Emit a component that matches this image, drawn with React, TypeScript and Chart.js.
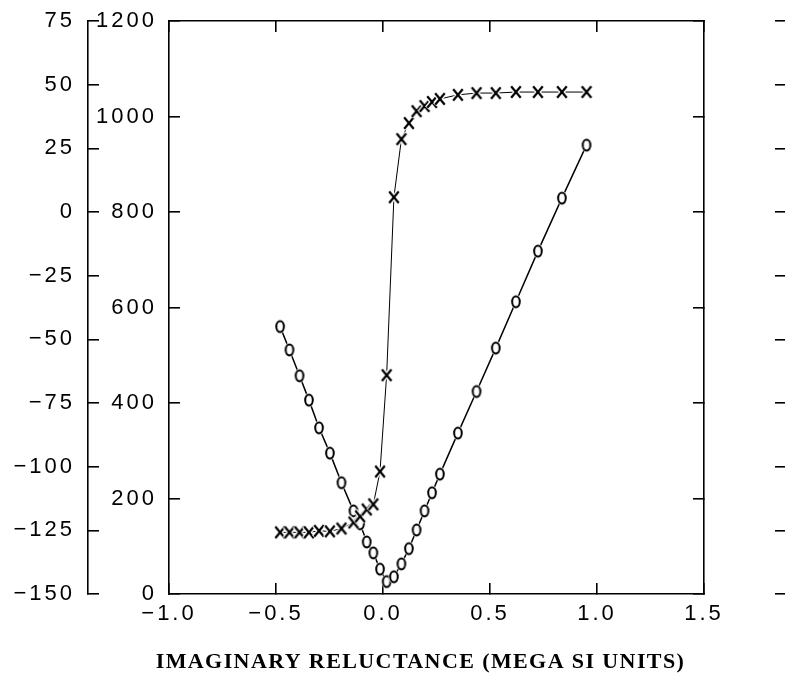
import React, { useEffect, useRef } from 'react';
import { Chart, registerables } from 'chart.js';

Chart.register(...registerables);

// ---- data ----
const reluctance = [
  -0.481, -0.437, -0.390, -0.346, -0.299, -0.248, -0.194, -0.138, -0.107,
  -0.076, -0.045, -0.014, 0.017, 0.051, 0.086, 0.121, 0.157, 0.194, 0.229,
  0.266, 0.350, 0.437, 0.527, 0.621, 0.724, 0.836, 0.951,
];
// "x" markers, plotted against the outer left axis (-150 .. 75)
const seriesX = [
  -125.8, -125.8, -125.8, -125.8, -125.2, -125.4, -124.3, -121.9, -119.5,
  -116.8, -114.8, -101.9, -64.1, 5.8, 28.6, 34.9, 39.6, 41.6, 43.2,
  44.4, 46.0, 46.7, 46.7, 47.1, 47.1, 47.1, 47.1,
];
// "o" markers, plotted against the inner left axis (0 .. 1200)
const seriesO = [
  560, 511, 457, 406, 348, 295, 233, 174, 147,
  109, 86, 52, 26, 36, 63, 95, 134, 174, 212,
  251, 337, 424, 515, 612, 718, 829, 940,
];

const xTickValues = [-1.0, -0.5, 0.0, 0.5, 1.0, 1.5];
const xTickLabels = ['\u22121.0', '\u22120.5', '0.0', '0.5', '1.0', '1.5'];
const outerTickValues = [-150, -125, -100, -75, -50, -25, 0, 25, 50, 75];
const outerTickLabels = ['\u2212150', '\u2212125', '\u2212100', '\u221275', '\u221250', '\u221225', '0', '25', '50', '75'];
const innerTickValues = [0, 200, 400, 600, 800, 1000, 1200];
const innerTickLabels = ['0', '200', '400', '600', '800', '1000', '1200'];
const xTitle = 'IMAGINARY RELUCTANCE (MEGA SI UNITS)';

Chart.defaults.font.family = '"Liberation Sans", Arial, Helvetica, sans-serif';
Chart.defaults.font.size = 22;
Chart.defaults.color = '#000';

function lookup(values: number[], labels: string[]) {
  return (v: any) => {
    const n = Number(v);
    for (let i = 0; i < values.length; i++) {
      if (Math.abs(values[i] - n) < 1e-9) return labels[i];
    }
    return '';
  };
}

function makeX() {
  const c = document.createElement('canvas');
  c.width = 16;
  c.height = 18;
  const g = c.getContext('2d') as CanvasRenderingContext2D;
  g.fillStyle = '#fff';
  g.fillRect(5, 5, 6, 8);
  g.lineCap = 'butt';
  g.strokeStyle = '#fff';
  g.lineWidth = 5;
  g.beginPath();
  g.moveTo(3, 3); g.lineTo(13, 15);
  g.moveTo(13, 3); g.lineTo(3, 15);
  g.stroke();
  g.strokeStyle = '#000';
  g.lineWidth = 2.2;
  g.beginPath();
  g.moveTo(3.2, 3.2); g.lineTo(12.8, 14.8);
  g.moveTo(12.8, 3.2); g.lineTo(3.2, 14.8);
  g.stroke();
  return c;
}

function makeO() {
  const c = document.createElement('canvas');
  c.width = 16;
  c.height = 20;
  const g = c.getContext('2d') as CanvasRenderingContext2D;
  g.fillStyle = '#fff';
  g.beginPath();
  g.ellipse(8, 10, 5.4, 7.2, 0, 0, Math.PI * 2);
  g.fill();
  g.strokeStyle = '#000';
  g.lineWidth = 2;
  g.beginPath();
  g.ellipse(8, 10, 3.8, 5.4, 0, 0, Math.PI * 2);
  g.stroke();
  return c;
}

export default function App() {
  const ref = useRef<HTMLCanvasElement>(null);

  useEffect(() => {
    const canvas = ref.current;
    if (!canvas) return;
    const xImg = makeX();
    const oImg = makeO();

    const spacing = {
      id: 'letterSpacing',
      beforeLayout(c: any) { c.ctx.letterSpacing = '3px'; },
      beforeDraw(c: any) { c.ctx.letterSpacing = '3px'; },
    };

    const border = { display: true, color: '#000', width: 1.6 };
    const grid = { drawOnChartArea: false, drawTicks: true, tickLength: -11, color: '#000', lineWidth: 1.6 };
    const fixV = (w: number) => (s: any) => { s.width = w; s.paddingTop = 0; s.paddingBottom = 0; };
    const fixH = (h: number) => (s: any) => { s.height = h; s.paddingLeft = 0; s.paddingRight = 0; };

    const chart = new Chart(canvas, {
      type: 'line',
      data: {
        datasets: [
          {
            label: 'x',
            data: reluctance.map((x, i) => ({ x, y: seriesX[i] })),
            xAxisID: 'x',
            yAxisID: 'y1',
            borderColor: '#000',
            borderWidth: 1,
            pointStyle: xImg as any,
            pointRadius: 5,
            pointHoverRadius: 5,
            tension: 0,
            fill: false,
          },
          {
            label: 'o',
            data: reluctance.map((x, i) => ({ x, y: seriesO[i] })),
            xAxisID: 'x',
            yAxisID: 'y2',
            borderColor: '#000',
            borderWidth: 1.5,
            pointStyle: oImg as any,
            pointRadius: 5,
            pointHoverRadius: 5,
            tension: 0,
            fill: false,
          },
        ],
      },
      options: {
        responsive: false,
        animation: false,
        devicePixelRatio: 1,
        layout: { padding: 0 },
        plugins: { legend: { display: false }, tooltip: { enabled: false } },
        events: [],
        scales: {
          x: {
            type: 'linear',
            position: 'bottom',
            min: -1,
            max: 1.5,
            ticks: { stepSize: 0.5, padding: 18, maxRotation: 0, autoSkip: false, callback: lookup(xTickValues, xTickLabels) },
            grid,
            border,
            title: {
              display: true,
              text: xTitle,
              font: { family: '"Liberation Serif", "Times New Roman", serif', size: 22, weight: 'bold', lineHeight: 1.2 },
              color: '#000',
              padding: { top: 0, bottom: 0 },
            },
            afterFit: (s: any) => {
              s.height = 79;
              s.paddingLeft = 0;
              s.paddingRight = 0;
              if (!s._titleSpacingPatched) {
                const orig = s.drawTitle;
                s.drawTitle = function () {
                  const ctx = this.ctx;
                  ctx.save();
                  ctx.letterSpacing = '1.4px';
                  ctx.translate(-16, 3);
                  orig.call(this);
                  ctx.restore();
                };
                s._titleSpacingPatched = true;
              }
            },
          },
          x2: {
            type: 'linear',
            position: 'top',
            min: -1,
            max: 1.5,
            ticks: { stepSize: 0.5, display: false },
            grid,
            border,
            afterFit: fixH(21),
          },
          y1: {
            type: 'linear',
            position: 'left',
            weight: 1,
            min: -150,
            max: 75,
            ticks: { stepSize: 25, padding: 24, callback: lookup(outerTickValues, outerTickLabels) },
            grid,
            border,
            afterFit: fixV(88),
          },
          y2: {
            type: 'linear',
            position: 'left',
            weight: 0,
            min: 0,
            max: 1200,
            ticks: { stepSize: 200, padding: 23, callback: lookup(innerTickValues, innerTickLabels) },
            grid,
            border,
            afterFit: fixV(81),
          },
          y2r: {
            type: 'linear',
            position: 'right',
            weight: 0,
            min: 0,
            max: 1200,
            ticks: { stepSize: 200, display: false },
            grid,
            border,
            afterFit: fixV(82),
          },
          y1r: {
            type: 'linear',
            position: 'right',
            weight: 1,
            min: -150,
            max: 75,
            ticks: { stepSize: 25, display: false },
            grid,
            border,
            afterFit: fixV(14),
          },
        },
      } as any,
      plugins: [spacing as any],
    });
    return () => chart.destroy();
  }, []);

  return (
    <div style={{ position: 'fixed', left: 0, top: 0, width: 785, height: 673, overflow: 'hidden', background: '#fff' }}>
      <canvas ref={ref} width={800} height={673} style={{ display: 'block' }} />
    </div>
  );
}
